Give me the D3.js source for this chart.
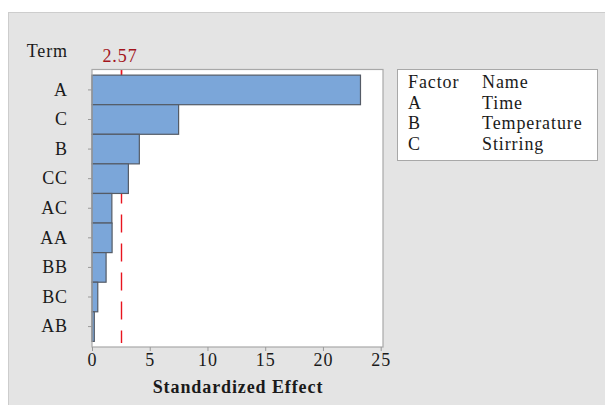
<!DOCTYPE html>
<html>
<head>
<meta charset="utf-8">
<script src="https://cdn.jsdelivr.net/npm/d3@7"></script>
<style>
  html, body { margin: 0; padding: 0; background: #ffffff; }
  svg { display: block; }
  text { font-family: "Liberation Serif", "Times New Roman", serif; fill: #1a1a1a; letter-spacing: 0.9px; }
</style>
</head>
<body>
<svg id="chart" width="605" height="405"></svg>
<script>
// Pareto chart of standardized effects
const terms = ["A", "C", "B", "CC", "AC", "AA", "BB", "BC", "AB"];
const effects = [23.25, 7.5, 4.1, 3.15, 1.72, 1.74, 1.22, 0.5, 0.2];
const xTicks = [0, 5, 10, 15, 20, 25];
const critical = 2.57;
const factorCodes = ["A", "B", "C"];
const factorNames = ["Time", "Temperature", "Stirring"];

const serif = "Liberation Serif, Times New Roman, serif";
const svg = d3.select("#chart");

// outer gray panel
svg.append("rect")
  .attr("x", 8.5).attr("y", 12.5)
  .attr("width", 605).attr("height", 400)
  .attr("fill", "#e4e4e4")
  .attr("stroke", "#cdcdcd");

const plot = { left: 92, right: 383, top: 69.5, bottom: 347 };

const x = d3.scaleLinear().domain([0, 25.2]).range([plot.left, plot.right]);
const y = d3.scaleBand().domain(terms)
  .range([plot.top, plot.bottom])
  .paddingInner(0).paddingOuter(0.19);

// plot background
svg.append("rect")
  .attr("x", plot.left).attr("y", plot.top)
  .attr("width", plot.right - plot.left).attr("height", plot.bottom - plot.top)
  .attr("fill", "#ffffff");

// reference line for the critical value
const xc = Math.round(x(critical)) - 0.5;
svg.append("line")
  .attr("x1", xc).attr("x2", xc)
  .attr("y1", plot.top).attr("y2", plot.top + 5)
  .attr("stroke", "#e8141e").attr("stroke-width", 1.4);
svg.append("line")
  .attr("x1", xc).attr("x2", xc)
  .attr("y1", plot.top).attr("y2", plot.bottom - 4)
  .attr("stroke", "#e8141e").attr("stroke-width", 1.4)
  .attr("stroke-dasharray", "18 11");

// bars
svg.append("g").selectAll("rect")
  .data(terms)
  .join("rect")
  .attr("x", x(0))
  .attr("y", d => y(d))
  .attr("width", (d, i) => x(effects[i]) - x(0))
  .attr("height", y.bandwidth())
  .attr("fill", "#7ba6d9")
  .attr("stroke", "#545b66")
  .attr("stroke-width", 1.2);

// plot frame
svg.append("rect")
  .attr("x", plot.left).attr("y", plot.top)
  .attr("width", plot.right - plot.left).attr("height", plot.bottom - plot.top)
  .attr("fill", "none")
  .attr("stroke", "#a8a8a8").attr("stroke-width", 1.2);

// y axis
const yAxis = svg.append("g")
  .attr("transform", `translate(${plot.left},0)`)
  .call(d3.axisLeft(y).tickSize(4).tickPadding(20));
yAxis.select(".domain").remove();
yAxis.selectAll(".tick line").attr("stroke", "#999999");
yAxis.selectAll(".tick text")
  .attr("font-family", serif)
  .attr("font-size", 18).attr("fill", "#1a1a1a");

// x axis
const xAxis = svg.append("g")
  .attr("transform", `translate(0,${plot.bottom})`)
  .call(d3.axisBottom(x).tickValues(xTicks).tickSize(4).tickPadding(2));
xAxis.select(".domain").remove();
xAxis.selectAll(".tick line").attr("stroke", "#999999");
xAxis.selectAll(".tick text")
  .attr("font-family", serif)
  .attr("font-size", 18).attr("fill", "#1a1a1a");

// titles
svg.append("text")
  .attr("x", 68).attr("y", 57)
  .attr("text-anchor", "end")
  .attr("font-size", 18)
  .text("Term");

svg.append("text")
  .attr("x", 238).attr("y", 393)
  .attr("text-anchor", "middle")
  .attr("font-size", 18).attr("font-weight", "bold")
  .text("Standardized Effect");

svg.append("text")
  .attr("x", 120).attr("y", 62)
  .attr("text-anchor", "middle")
  .attr("font-size", 18)
  .style("fill", "#a3141c")
  .text(critical.toFixed(2));

// factor legend
const lg = svg.append("g");
lg.append("rect")
  .attr("x", 397.5).attr("y", 69.5)
  .attr("width", 200).attr("height", 91)
  .attr("fill", "#ffffff")
  .attr("stroke", "#a8a8a8");
const rowY = i => 88 + i * 20.5;
lg.append("text").attr("x", 408).attr("y", rowY(0)).attr("font-size", 18).text("Factor");
lg.append("text").attr("x", 482).attr("y", rowY(0)).attr("font-size", 18).text("Name");
factorCodes.forEach((c, i) => {
  lg.append("text").attr("x", 408).attr("y", rowY(i + 1)).attr("font-size", 18).text(c);
  lg.append("text").attr("x", 482).attr("y", rowY(i + 1)).attr("font-size", 18).text(factorNames[i]);
});
</script>
</body>
</html>
